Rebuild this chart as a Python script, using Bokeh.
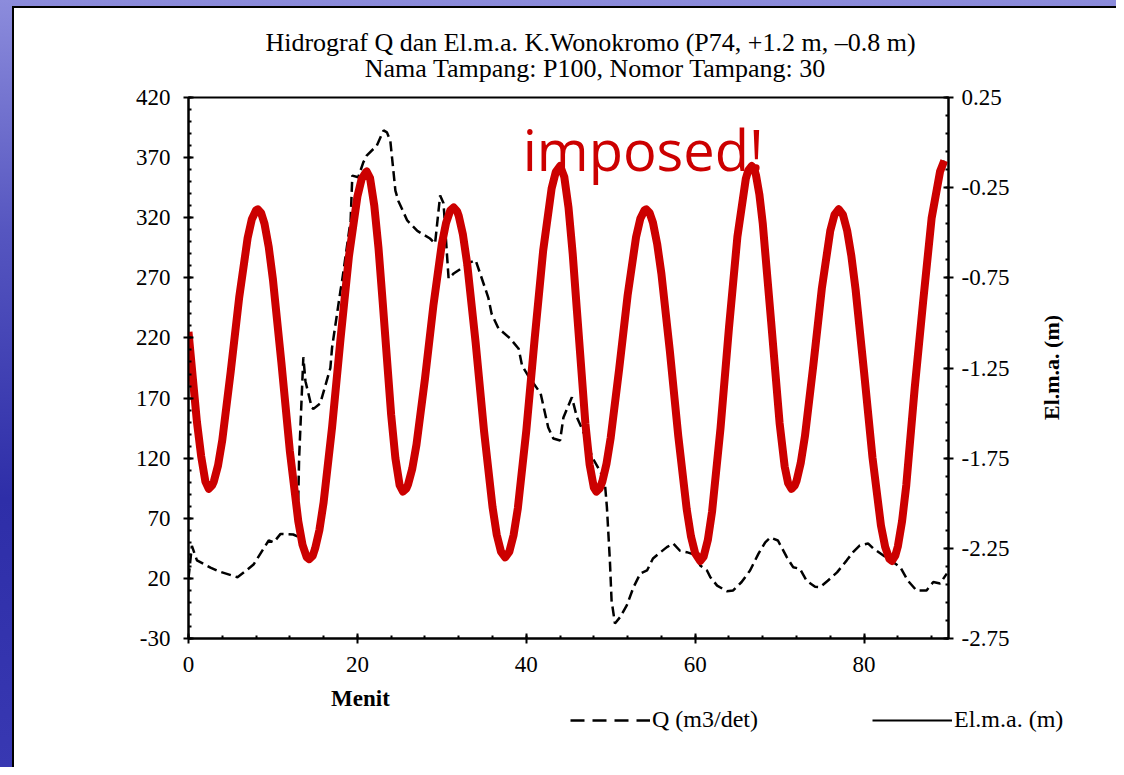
from bokeh.plotting import figure
from bokeh.layouts import column, row
from bokeh.models import Range1d, LinearAxis, FixedTicker, Label, Legend, LegendItem
from bokeh.embed import file_html
from bokeh.resources import INLINE

# ---------------- data ----------------
q_minutes = [0, 0.4, 1.0, 2.6, 3.55, 5.8, 6.75, 7.7, 9.5, 10.1, 10.9, 12.4, 12.9, 13.1, 13.6,
             13.85, 14.6, 14.8, 15.6, 16.8, 17.0, 18.0, 18.2, 19.2, 19.4, 20.1, 20.7, 21.1,
             22.3, 23.1, 23.5, 23.9, 24.5, 24.85, 25.9, 27.1, 28.6, 29.2, 29.8, 30.2, 30.8,
             31.4, 33.4, 34.0, 35.5, 35.9, 36.7, 38.1, 39.1, 39.5, 40.2, 41.7, 42.2, 42.6,
             43.2, 44.0, 44.4, 45.4, 46.0, 47.2, 47.8, 48.8, 49.3, 49.55, 49.9, 50.1, 50.5,
             51.1, 51.9, 52.7, 53.5, 54.3, 55.0, 55.9, 56.65, 57.4, 58.2, 59.0, 60.2, 60.6,
             61.4, 61.8, 62.6, 63.75, 64.5, 65.5, 66.5, 67.5, 68.3, 68.9, 69.8, 70.85, 71.6,
             72.4, 73.2, 74.2, 74.8, 75.7, 76.8, 77.95, 78.7, 79.5, 80.5, 81.1, 82.5, 84.3,
             85.2, 86.2, 87.4, 88.2, 89.0, 89.8]
q_values = [20, 47, 35, 29, 26, 21, 26, 31.5, 51.5, 50, 57, 56.5, 55, 120, 204,
            184, 162, 161, 165.5, 195, 212, 259.5, 268, 318, 355, 353.7, 366, 371.7,
            380, 392.6, 391, 384, 342.6, 334, 317.7, 309, 302.7, 298.6, 338.5, 332, 269.5,
            273.6, 283, 284.7, 253.6, 240, 228, 219.5, 211, 197, 188.8, 173.8, 158, 145.5,
            136.4, 134.7, 153.8, 170.7, 154, 134.7, 120.9, 108.3, 100, 79, 35, 1.6, -17.5,
            -12.3, -2.5, 12.7, 24, 26.6, 36.5, 41.8, 46, 49, 43, 41.8, 39, 30.7,
            26.6, 21, 14, 9.3, 10, 17, 26.6, 40.6, 50, 54, 51.5, 37.7, 29.3,
            28, 18, 13, 12.7, 18, 25, 35, 41.8, 47.4, 49, 44.9, 38, 29.3,
            18, 10, 10, 17, 15.7, 24]

el_minutes = [0, 1, 1.5, 2, 2.4, 2.8, 3, 3.5, 4, 5, 6, 7, 7.5, 8, 8.2, 8.6, 9, 9.5, 10, 11, 12,
              13, 13.5, 14, 14.3, 14.7, 15, 15.5, 16, 17, 18, 19, 20, 20.5, 21, 21.1, 21.5, 22,
              22.5, 23, 24, 24.5, 25, 25.4, 25.8, 26, 26.5, 27, 28, 29, 30, 30.5, 31, 31.4,
              31.8, 32, 32.5, 33, 34, 35, 36, 36.5, 37, 37.5, 38, 38.5, 39, 40, 41, 42, 43,
              43.5, 44, 44.5, 45, 45.5, 46, 47, 47.5, 48, 48.3, 48.7, 49, 49.5, 50, 51, 52, 53,
              53.5, 54, 54.2, 54.6, 55, 55.5, 56, 57, 58, 59, 59.5, 60, 60.6, 61, 61.5, 62, 63,
              64, 65, 66, 66.3, 66.7, 67, 67.2, 67.6, 68, 69, 70, 70.6, 71, 71.4, 71.8, 72,
              72.5, 73, 74, 75, 76, 76.5, 77, 77.5, 78, 78.5, 79, 80, 81, 82, 82.5, 83, 83.3,
              83.7, 84, 84.5, 85, 86, 87, 88, 89, 89.5]
el_values = [-1.05, -1.55, -1.74, -1.88, -1.92, -1.90, -1.88, -1.79, -1.65, -1.27, -0.86, -0.53,
             -0.425, -0.375, -0.37, -0.39, -0.45, -0.579, -0.76, -1.22, -1.71,
             -2.10, -2.23, -2.30, -2.31, -2.292, -2.25, -2.149, -1.995, -1.58, -1.09, -0.63,
             -0.30, -0.202, -0.165, -0.16, -0.197, -0.35,
             -0.585, -0.887, -1.51, -1.75, -1.90, -1.935, -1.918, -1.896, -1.808, -1.674,
             -1.311, -0.904, -0.562, -0.446, -0.377, -0.36,
             -0.38, -0.406, -0.511, -0.671, -1.108, -1.60, -2.02, -2.174, -2.268, -2.30,
             -2.268, -2.176, -2.028, -1.599, -1.084, -0.599, -0.255,
             -0.162, -0.13, -0.19, -0.36, -0.619, -0.933, -1.558, -1.785, -1.913, -1.935,
             -1.917, -1.881, -1.781, -1.636, -1.256, -0.848, -0.524,
             -0.423, -0.375, -0.37, -0.389, -0.444, -0.562, -0.727, -1.155, -1.628, -2.034,
             -2.183, -2.277, -2.32, -2.297, -2.204, -2.047, -1.585,
             -1.029, -0.523, -0.200, -0.153, -0.13, -0.148, -0.18, -0.287, -0.447, -0.995,
             -1.556, -1.796, -1.888, -1.92, -1.901, -1.877,
             -1.777, -1.628, -1.232, -0.809, -0.489, -0.40, -0.37, -0.40, -0.489, -0.63,
             -0.816, -1.272, -1.747, -2.123, -2.242, -2.309, -2.32,
             -2.29, -2.24, -2.10, -1.90, -1.36, -0.88, -0.42, -0.16, -0.10]

x_ticks = [0, 20, 40, 60, 80]
x_tick_labels = ["0", "20", "40", "60", "80"]
q_ticks = [-30, 20, 70, 120, 170, 220, 270, 320, 370, 420]
q_tick_labels = ["-30", "20", "70", "120", "170", "220", "270", "320", "370", "420"]
el_ticks = [-2.75, -2.25, -1.75, -1.25, -0.75, -0.25, 0.25]
el_tick_labels = ["-2.75", "-2.25", "-1.75", "-1.25", "-0.75", "-0.25", "0.25"]

title_1 = "Hidrograf Q dan El.m.a. K.Wonokromo (P74, +1.2 m, \u20130.8 m)"
title_2 = "Nama Tampang: P100, Nomor Tampang: 30"
x_title = "Menit"
el_title = "El.m.a. (m)"
q_name = "Q (m3/det)"
el_name = "El.m.a. (m)"
stamp = "imposed!"

SERIF = "Liberation Serif"
W = 1116
W_MAIN, W_SIDE = 1020, 96
H_TOP, H_MAIN, H_BOT = 83, 601, 83


def blank_panel(w, h):
    f = figure(width=w, height=h, output_backend="svg", toolbar_location=None, title=None,
               x_range=Range1d(0, w), y_range=Range1d(h, 0), x_axis_location=None,
               y_axis_location=None, min_border=0)
    f.frame_align = False
    f.xgrid.visible = False
    f.ygrid.visible = False
    f.outline_line_color = None
    f.background_fill_alpha = 0
    f.border_fill_alpha = 0
    return f


def add_label(f, text, x, y, size, bold=False, angle=0):
    f.add_layout(Label(x=x, y=y, text=text, text_font=SERIF, text_font_size=size,
                       text_font_style="bold" if bold else "normal", text_color="black",
                       text_align="center", text_baseline="middle", angle=angle,
                       angle_units="deg"))


# ---------------- header (titles) ----------------
top = blank_panel(W, H_TOP)
add_label(top, title_1, 590, 42, "26px")
add_label(top, title_2, 595, 68, "26px")

# ---------------- main chart ----------------
p = figure(width=W_MAIN, height=H_MAIN, output_backend="svg", toolbar_location=None,
           title=None, x_range=Range1d(0, 90), y_range=Range1d(-30, 420),
           min_border_left=188, min_border_right=W_MAIN - 948, min_border_top=14,
           min_border_bottom=46)
p.frame_align = False
p.extra_y_ranges = {"el": Range1d(-2.75, 0.25)}
p.xgrid.visible = False
p.ygrid.visible = False
p.outline_line_color = "black"
p.outline_line_width = 2
p.background_fill_color = "white"
p.border_fill_alpha = 0

right_axis = LinearAxis(y_range_name="el")
p.add_layout(right_axis, "right")


def style_axis(ax, ticks, labels, minor, standoff):
    ax.ticker = FixedTicker(ticks=ticks, minor_ticks=minor)
    ax.major_label_overrides = dict(zip(ticks, labels))
    ax.axis_line_width = 2
    ax.axis_line_color = "black"
    ax.major_tick_line_width = 2
    ax.major_tick_line_color = "black"
    ax.major_tick_in = 5
    ax.major_tick_out = 5
    ax.minor_tick_line_width = 2
    ax.minor_tick_line_color = "black"
    ax.minor_tick_in = 3
    ax.minor_tick_out = 0
    ax.major_label_text_font = SERIF
    ax.major_label_text_font_size = "23px"
    ax.major_label_text_color = "black"
    ax.major_label_standoff = standoff


style_axis(p.xaxis[0], x_ticks, x_tick_labels, [i * 4 for i in range(23)], 13)
style_axis(p.yaxis[0], q_ticks, q_tick_labels, [-30 + 10 * i for i in range(46)], 13)
style_axis(right_axis, el_ticks, el_tick_labels,
           [round(-2.75 + 0.1 * i, 2) for i in range(31)], 8)

p.line(el_minutes, el_values, y_range_name="el", line_color="black", line_width=2)
p.line(q_minutes, q_values, line_color="black", line_width=2.5, line_dash="10 5")
p.line(el_minutes, el_values, y_range_name="el", line_color="#CC0000", line_width=8,
       line_join="round")

p.add_layout(Label(x=53.85, y=377.0, text=stamp, text_font="Open Sans",
                   text_font_size="56px", text_color="#CC0000", text_align="center",
                   text_baseline="alphabetic"))

# ---------------- right side (axis title) ----------------
side = blank_panel(W_SIDE, H_MAIN)
add_label(side, el_title, 1051 - W_MAIN, 367 - H_TOP, "22px", bold=True, angle=90)

# ---------------- footer (x title + legend) ----------------
bot = blank_panel(W, H_BOT)
add_label(bot, x_title, 360, 14, "23px", bold=True)
q_key = bot.line([-50, -40], [-50, -50], line_color="black", line_width=2.5,
                 line_dash="14 8")
el_key = bot.line([-50, -40], [-50, -50], line_color="black", line_width=2.2)
legend = Legend(items=[LegendItem(label=q_name, renderers=[q_key]),
                       LegendItem(label=el_name, renderers=[el_key])],
                location=(570, 34), orientation="horizontal", glyph_width=80,
                glyph_height=20, label_standoff=2, spacing=114, padding=0, margin=0,
                border_line_color=None, background_fill_alpha=0,
                label_text_font=SERIF, label_text_font_size="24px",
                label_text_color="black")
bot.add_layout(legend, "center")

layout = column(top, row(p, side, spacing=0), bot, spacing=0)
layout.styles = {
    "background": ("linear-gradient(white, white) 14px 8px / calc(100% - 14px) "
                   "calc(100% - 8px) no-repeat, "
                   "linear-gradient(black, black) 12px 6px / calc(100% - 12px) "
                   "calc(100% - 6px) no-repeat, "
                   "linear-gradient(to bottom, #8c8cdc, #5656c0 30%, #2e2ea8 65%, #3838b2)")
}

open("out.html", "w").write(file_html(layout, INLINE))
